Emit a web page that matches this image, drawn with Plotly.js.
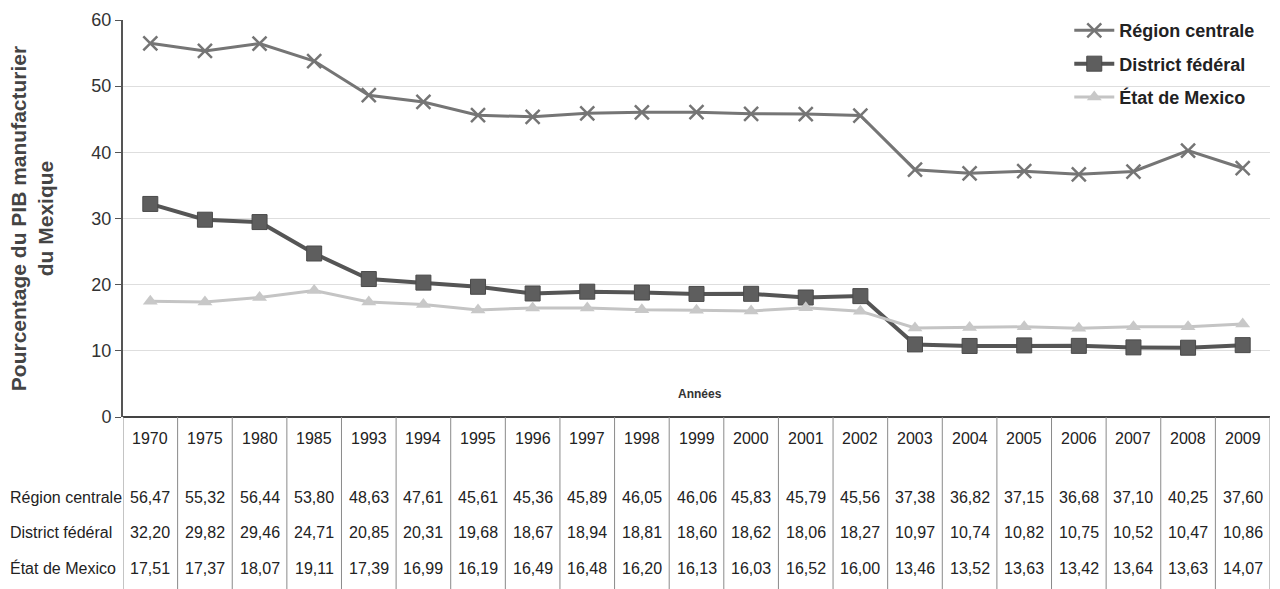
<!DOCTYPE html>
<html>
<head>
<meta charset="utf-8">
<script src="https://cdn.plot.ly/plotly-3.0.1.min.js"></script>
<style>html,body{margin:0;padding:0;background:#fff;}#chart{width:1280px;height:589px;}</style>
</head>
<body>
<div id="chart"></div>
<script>
const years = ["1970","1975","1980","1985","1993","1994","1995","1996","1997","1998","1999","2000","2001","2002","2003","2004","2005","2006","2007","2008","2009"];
const regionCentrale = [56.47,55.32,56.44,53.80,48.63,47.61,45.61,45.36,45.89,46.05,46.06,45.83,45.79,45.56,37.38,36.82,37.15,36.68,37.10,40.25,37.60];
const districtFederal = [32.20,29.82,29.46,24.71,20.85,20.31,19.68,18.67,18.94,18.81,18.60,18.62,18.06,18.27,10.97,10.74,10.82,10.75,10.52,10.47,10.86];
const etatMexico = [17.51,17.37,18.07,19.11,17.39,16.99,16.19,16.49,16.48,16.20,16.13,16.03,16.52,16.00,13.46,13.52,13.63,13.42,13.64,13.63,14.07];
const seriesNames = ["Région centrale","District fédéral","État de Mexico"];
const yTicks = [0,10,20,30,40,50,60];

const FONT = "Liberation Sans, Arial, sans-serif";
const traces = [
  {x: years, y: regionCentrale, name: seriesNames[0], type: "scatter", mode: "lines+markers",
   line: {color: "#757575", width: 3}, legendgroup: "a",
   marker: {symbol: "x-thin", size: 14, line: {color: "#757575", width: 2.5}}},
  {x: years, y: districtFederal, name: seriesNames[1], type: "scatter", mode: "lines+markers",
   line: {color: "#555555", width: 4}, legendgroup: "b",
   marker: {symbol: "square", size: 15, color: "#5e5e5e", line: {color: "#4a4a4a", width: 1}}},
  {x: years, y: etatMexico, name: seriesNames[2], type: "scatter", mode: "lines+markers",
   line: {color: "#c4c4c4", width: 3}, legendgroup: "c",
   marker: {symbol: "triangle-up", size: 13, color: "#c8c8c8"}}
];

const H = 397; // plot height in px
function py(p){ return (417 - p) / H; }
const annotations = [];
const shapes = [];
const rows = [
  {label: seriesNames[0], vals: regionCentrale, y: py(497)},
  {label: seriesNames[1], vals: districtFederal, y: py(532)},
  {label: seriesNames[2], vals: etatMexico, y: py(568)}
];
years.forEach((yr, i) => {
  annotations.push({x: i, xref: "x", y: py(438), yref: "paper", text: yr, showarrow: false,
    xanchor: "center", yanchor: "middle", font: {family: FONT, size: 16, color: "#222"}});
  rows.forEach(r => {
    annotations.push({x: i, xref: "x", y: r.y, yref: "paper", text: r.vals[i].toFixed(2).replace(".", ","),
      showarrow: false, xanchor: "center", yanchor: "middle", font: {family: FONT, size: 16, color: "#222"}});
  });
});
rows.forEach(r => {
  annotations.push({x: (8 - 123) / 1147, xref: "paper", y: r.y, yref: "paper", text: r.label, showarrow: false,
    xanchor: "left", yanchor: "middle", font: {family: FONT, size: 16, color: "#222"}});
});
for (let i = 0; i <= years.length; i++) {
  shapes.push({type: "line", xref: "x", yref: "paper", x0: i - 0.5, x1: i - 0.5, y0: 0, y1: py(589),
    line: {color: "#8a8a8a", width: 1}});
}
annotations.push({x: 0.503, xref: "paper", y: py(394), yref: "paper", text: "<b>Années</b>", showarrow: false,
  xanchor: "center", yanchor: "middle", font: {family: FONT, size: 12, color: "#333"}});

const layout = {
  width: 1280, height: 589,
  margin: {l: 123, r: 10, t: 20, b: 172},
  paper_bgcolor: "#fff", plot_bgcolor: "#fff",
  showlegend: true,
  legend: {x: 0.825, xanchor: "left", y: 1.02, yanchor: "top", bgcolor: "rgba(255,255,255,0)",
    font: {family: FONT, size: 18, color: "#222", weight: "bold"}, tracegroupgap: 7, itemwidth: 40},
  xaxis: {type: "category", range: [-0.5, years.length - 0.5], showticklabels: false, ticks: "",
    showgrid: false, zeroline: false, showline: false, fixedrange: true},
  yaxis: {range: [0, 60], tickvals: yTicks, ticks: "outside", ticklen: 6, tickcolor: "#555",
    tickfont: {family: FONT, size: 18, color: "#333"}, showgrid: true, gridcolor: "#dedede", gridwidth: 1,
    zeroline: true, zerolinecolor: "#444", zerolinewidth: 2, showline: true, linecolor: "#555", linewidth: 2,
    title: {text: "<b>Pourcentage du PIB manufacturier<br>du Mexique</b>", standoff: 32,
      font: {family: FONT, size: 21, color: "#444"}}},
  annotations: annotations,
  shapes: shapes
};
Plotly.newPlot("chart", traces, layout, {displayModeBar: false, staticPlot: true});
</script>
</body>
</html>
